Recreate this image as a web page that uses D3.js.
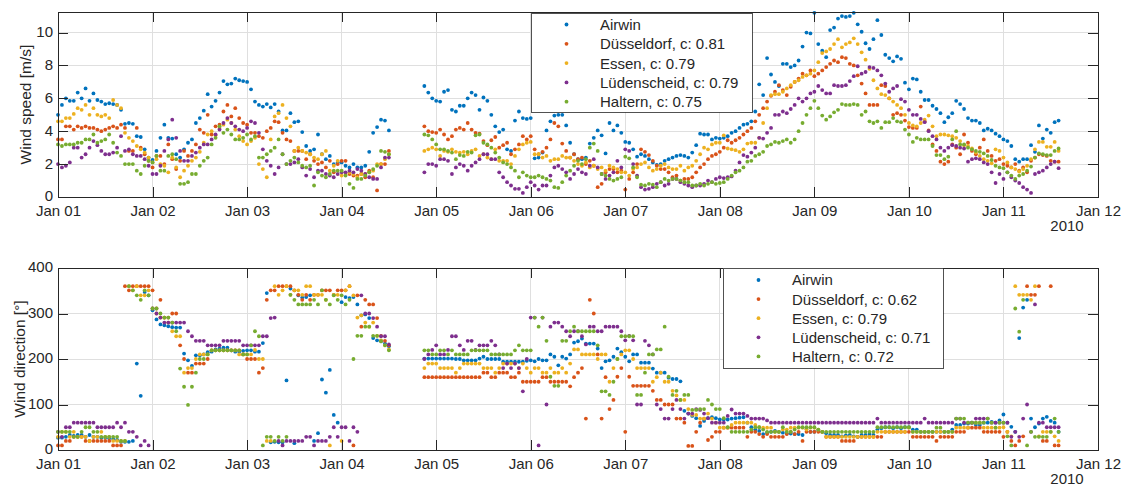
<!DOCTYPE html>
<html><head><meta charset="utf-8">
<script src="https://cdn.jsdelivr.net/npm/d3@7"></script>
<style>
html,body{margin:0;padding:0;background:#fff;}
svg text{font-family:"Liberation Sans", Arial, Helvetica, sans-serif; fill:#262626;}
</style></head><body>
<svg id="chart" width="1126" height="486"></svg>
<script>
// Hourly observations, 1 Jan 2010 00:00 UTC onwards; null = no data
const startTime = Date.UTC(2010, 0, 1);
const endTime = Date.UTC(2010, 0, 12);
const stations = ["Airwin", "Düsseldorf", "Essen", "Lüdenscheid", "Haltern"];
const speedCorr = [null, "0.81", "0.79", "0.79", "0.75"];
const dirCorr = [null, "0.62", "0.79", "0.71", "0.72"];
const colors = ["#0072BD", "#D95319", "#EDB120", "#7E2F8E", "#77AC30"];
const speedTicks = [0, 2, 4, 6, 8, 10];
const dirTicks = [0, 100, 200, 300, 400];
const yearLabel = "2010";
const _ = null;

// Wind speed [m/s]
const speedAirwin = [
5.0,5.6,6.0,5.85,5.85,6.35,6.0,6.6,5.85,6.3,5.9,5.8,5.65,5.7,5.65,5.6,5.3,4.45,4.5,4.45,3.7,3.65,2.9,2.4,
2.25,2.8,3.6,4.4,3.6,3.55,2.6,2.4,2.9,3.3,3.5,4.5,4.8,5.25,6.25,5.5,5.85,6.35,7.05,6.85,6.9,7.2,7.1,7.05,
7.0,6.55,5.8,5.6,5.5,5.65,5.45,5.65,5.2,4.05,4.05,5.1,4.55,4.6,3.95,3.1,2.8,2.9,3.8,2.6,2.3,2.5,2.0,2.1,
2.1,1.9,1.8,2.0,1.8,1.8,1.9,2.75,3.9,4.25,4.7,4.65,4.05,_,_,_,_,_,_,_,_,6.75,6.35,6.0,
5.85,5.8,6.4,6.5,5.3,5.2,5.55,5.55,6.0,6.35,6.2,5.3,6.05,5.85,5.0,4.3,3.95,4.1,2.9,2.8,4.65,5.2,4.8,4.75,
4.8,2.35,2.4,2.7,4.05,4.6,4.95,5.0,5.0,4.35,3.3,2.6,2.3,2.3,2.4,3.25,3.6,4.05,3.75,2.65,4.5,4.05,4.35,3.9,
3.35,3.3,2.9,2.45,2.6,2.5,2.3,2.1,1.95,2.0,2.2,2.3,2.4,2.5,2.55,2.5,2.4,2.7,3.15,3.85,3.8,3.8,3.5,3.6,
3.55,3.6,3.7,3.9,4.0,4.2,4.4,4.45,4.6,5.2,6.85,6.2,8.45,7.45,7.0,6.75,8.1,8.1,7.9,8.0,8.3,9.15,10.0,9.95,
11.2,9.3,8.9,8.5,10.15,10.3,10.85,11.0,10.95,11.0,11.2,10.5,10.05,9.35,9.0,9.6,10.75,9.85,8.65,8.45,8.25,8.55,8.4,6.95,
6.55,7.2,7.15,6.4,5.9,5.9,5.55,5.35,5.1,4.55,4.85,5.1,5.85,5.65,5.35,4.8,4.65,4.65,4.5,4.05,4.15,4.05,3.85,3.7,
3.5,3.4,3.1,2.3,2.15,2.3,2.3,3.15,2.75,4.35,3.55,4.1,3.9,4.55,4.65];
const speedDuesseldorf = [
3.5,3.5,4.3,4.3,4.1,4.3,4.2,4.3,4.2,4.2,4.1,4.0,4.1,4.2,4.3,4.2,4.4,4.2,2.8,2.8,4.2,3.0,2.6,2.2,
1.8,2.5,2.5,2.0,3.2,2.3,1.7,2.2,2.8,2.5,2.8,3.2,4.1,3.9,5.0,3.8,4.3,4.4,5.2,5.6,4.9,5.4,4.8,4.5,
4.4,3.9,3.9,3.7,3.6,4.0,4.2,4.6,4.55,3.9,3.5,3.4,2.8,2.8,2.8,2.3,2.6,2.2,2.0,2.1,1.8,2.2,1.5,2.0,
2.2,2.2,1.4,1.3,1.3,1.4,1.2,1.6,1.2,0.4,2.0,2.0,2.8,_,_,_,_,_,_,_,_,4.3,4.0,3.95,
3.9,4.1,3.8,3.5,3.7,4.1,4.2,4.1,4.5,4.1,3.9,3.85,3.4,3.15,3.45,3.65,3.0,3.15,3.3,2.6,2.9,3.2,3.7,3.5,
3.7,2.9,2.6,2.75,3.0,3.5,4.5,4.3,3.25,2.8,2.4,2.6,2.3,2.4,2.0,2.2,1.9,0.6,0.8,1.5,1.7,1.7,1.5,1.6,
0.45,1.1,1.5,2.0,2.9,2.75,2.55,2.2,1.9,1.7,1.7,1.5,1.2,1.3,1.0,1.1,1.1,1.2,1.5,1.8,2.0,2.3,2.5,2.6,
2.75,3.0,3.45,3.3,3.45,3.6,3.8,4.0,4.2,4.6,5.0,5.4,5.8,6.15,6.4,6.8,6.5,6.2,6.7,7.0,7.2,7.5,7.4,7.7,
7.35,7.5,7.7,7.9,8.1,8.3,8.2,8.5,8.45,8.1,8.0,7.4,6.9,6.3,5.6,5.6,5.6,6.8,6.75,6.0,5.0,5.1,5.0,4.65,
4.25,4.2,4.2,5.5,4.6,4.05,3.2,2.8,2.15,2.0,2.15,3.2,3.0,2.6,3.8,3.3,2.8,2.6,3.0,3.5,2.8,2.5,2.2,2.3,
2.0,1.9,1.8,2.0,1.6,1.8,1.5,2.2,2.4,2.6,2.55,2.5,2.2,2.15,2.15];
const speedEssen = [
4.6,4.6,4.8,4.8,5.05,5.4,5.3,5.6,5.0,5.4,5.0,4.9,5.0,4.8,5.9,5.6,5.4,3.9,3.6,3.4,3.1,2.9,2.7,2.4,
2.1,2.3,2.0,1.9,1.5,2.4,1.8,1.2,1.6,1.9,2.2,2.4,2.75,3.3,3.8,4.0,3.75,4.2,4.4,4.7,4.5,4.1,3.7,3.4,
3.2,3.4,3.6,2.0,1.7,1.2,3.5,4.9,5.1,5.6,4.8,4.3,2.8,3.0,2.8,2.7,2.6,2.4,2.3,2.6,2.8,1.6,1.9,2.2,
1.3,1.4,1.5,1.4,1.2,1.4,1.4,1.5,1.6,2.0,2.0,2.3,2.6,_,_,_,_,_,_,_,_,2.8,2.9,3.0,
2.9,2.5,2.8,2.75,2.9,2.75,2.7,2.75,2.6,2.8,2.9,2.5,2.6,2.4,2.3,2.9,2.2,2.2,2.2,2.0,2.5,2.9,3.2,3.3,
3.35,2.6,2.6,2.4,2.5,2.2,2.3,2.3,2.5,2.4,2.4,2.2,2.0,1.9,2.1,1.8,1.9,1.7,1.8,1.6,1.9,1.8,1.7,1.5,
1.5,1.3,1.7,1.8,2.0,2.1,1.8,1.6,1.7,1.9,2.0,1.8,1.7,1.7,1.9,1.6,1.8,1.9,2.2,2.6,3.0,2.9,3.2,3.3,
3.3,3.75,2.95,2.9,2.85,2.75,2.9,3.25,3.3,3.3,3.6,4.5,5.4,6.2,6.25,6.25,6.4,6.6,6.8,7.0,7.1,7.3,7.4,7.5,
7.7,8.2,8.75,8.85,9.0,9.3,9.6,9.1,9.3,9.4,9.65,9.3,8.8,8.35,7.8,7.1,6.6,6.25,6.2,6.0,5.8,5.6,5.4,5.0,
4.5,4.35,4.3,4.5,4.7,4.95,4.3,3.7,3.8,3.8,3.75,3.7,3.6,3.4,3.15,3.1,2.95,2.7,2.5,2.3,2.2,2.05,2.9,2.8,
2.4,2.1,1.8,1.7,1.55,1.7,1.9,2.3,2.9,3.35,3.35,3.05,3.05,3.35,2.8];
const speedLuedenscheid = [
2.0,1.8,1.9,2.1,3.0,3.0,2.4,2.6,3.0,3.4,3.15,2.8,2.6,2.6,2.7,3.0,3.7,2.8,2.9,2.6,2.5,2.5,2.3,1.9,
1.4,1.4,1.9,2.8,3.5,4.7,3.6,2.8,2.2,2.2,2.5,2.7,3.0,3.2,3.2,3.5,3.8,4.1,4.5,4.8,4.5,4.3,4.1,4.0,
4.2,4.6,4.5,3.9,2.9,2.2,1.9,1.4,1.8,2.6,2.0,2.0,2.1,2.3,1.8,1.3,1.7,1.2,1.6,1.6,1.4,1.3,1.2,1.4,
1.5,1.5,1.6,1.5,1.7,1.6,1.4,1.2,1.1,1.1,1.8,2.4,2.4,_,_,_,_,_,_,_,_,1.5,2.0,2.0,
1.9,2.3,2.3,2.2,1.4,1.8,2.0,1.9,1.6,1.9,2.1,2.3,2.6,2.6,2.3,2.3,1.5,1.2,0.9,0.7,0.5,0.5,0.25,0.6,
0.9,0.7,0.45,0.7,0.7,1.3,1.8,1.9,1.7,1.5,1.1,1.4,1.7,1.5,1.4,1.9,2.3,1.8,1.4,1.1,1.3,1.5,2.2,1.8,
2.9,2.8,2.0,1.3,0.6,0.45,0.5,0.6,0.8,0.9,0.7,0.8,1.1,1.1,0.9,0.8,0.7,0.6,0.7,0.7,0.8,1.0,0.9,1.1,
1.2,1.15,1.2,1.25,1.6,2.1,2.55,2.45,2.7,3.0,3.6,3.55,3.9,4.2,5.0,5.0,5.2,5.1,5.35,5.6,6.0,5.8,6.0,6.3,
6.4,6.75,6.5,6.3,6.3,6.8,6.75,6.75,6.8,7.05,7.35,7.95,7.5,7.6,7.9,7.85,7.7,7.4,6.9,6.4,6.6,6.75,5.95,5.8,
5.3,5.0,5.0,4.75,4.55,4.0,3.7,3.5,3.0,2.8,3.0,3.15,3.1,3.0,2.95,2.15,2.3,2.35,2.3,2.1,2.0,1.5,0.85,1.4,
1.1,1.5,1.2,1.0,0.85,0.6,0.45,0.25,1.4,1.5,1.6,1.8,2.0,2.15,1.75];
const speedHaltern = [
3.2,3.1,3.2,3.2,3.2,3.3,3.3,3.5,3.5,3.8,3.3,3.4,3.5,3.8,3.3,2.7,2.5,2.0,2.0,2.0,1.6,1.4,1.9,2.2,
2.1,2.5,1.6,1.6,2.5,2.6,2.3,0.8,0.8,0.9,1.4,1.4,1.9,2.2,2.4,3.2,3.6,4.3,3.9,4.1,3.8,3.5,3.5,3.6,
3.8,3.5,3.7,2.4,2.4,2.6,2.8,3.0,3.5,2.6,2.0,2.2,2.4,2.1,1.9,1.8,1.9,0.7,1.5,1.3,1.2,1.4,1.6,1.6,
1.6,1.3,0.8,0.55,1.1,1.1,1.3,1.5,1.7,1.9,2.8,2.75,2.6,_,_,_,_,_,_,_,_,3.8,3.75,3.5,
3.2,2.9,2.9,2.8,2.7,2.3,2.55,2.5,2.75,2.7,3.75,3.8,3.3,3.2,3.0,2.7,2.4,2.1,2.0,1.8,1.6,1.2,1.5,1.3,
1.2,1.2,1.3,1.2,1.1,1.0,0.6,0.55,0.9,1.3,1.6,1.9,2.2,2.0,2.3,3.0,3.25,2.8,1.4,1.3,1.1,1.0,1.1,1.2,
2.45,2.35,1.8,1.2,0.75,0.7,0.8,0.75,0.6,0.9,1.1,1.0,1.1,1.1,1.0,0.9,0.9,0.7,0.7,0.8,0.7,0.8,0.9,0.8,
0.85,0.9,1.1,1.3,1.5,1.6,1.8,2.15,2.2,2.5,2.6,2.75,3.1,3.2,3.35,3.3,3.4,3.5,3.3,3.5,4.0,4.5,5.0,5.4,
5.85,5.4,4.95,4.7,4.9,5.15,5.3,5.65,5.6,5.6,5.65,5.6,5.0,5.2,4.6,4.5,4.6,4.2,4.55,4.55,4.8,4.6,4.55,4.1,
3.8,3.35,3.6,3.5,3.5,3.5,3.1,2.55,2.55,2.3,2.45,3.5,4.0,3.2,3.2,3.0,2.9,2.8,2.75,2.65,2.5,2.25,1.9,1.8,
1.75,1.5,1.3,1.1,1.3,1.4,1.6,1.85,2.4,2.65,2.6,2.55,2.55,2.8,2.95];

// Wind direction [deg]
const dirAirwin = [
27,27,29,33,31,33,33,29,33,29,29,27,27,26,24,22,18,18,18,20,190,119,347,340,
307,287,276,274,272,270,269,269,212,197,185,208,208,210,215,216,221,223,225,225,219,216,216,218,
219,219,216,216,235,345,17,18,17,17,153,355,15,340,335,336,340,20,37,155,126,176,77,60,
325,336,334,336,320,296,298,290,246,241,239,234,228,_,_,_,_,_,_,_,_,201,201,201,
201,201,201,201,201,200,200,197,197,197,197,201,205,200,200,200,200,194,194,194,194,194,194,196,
197,195,200,197,197,210,205,186,205,201,210,236,239,245,234,234,234,223,180,195,197,205,223,215,
205,195,210,210,192,192,192,179,170,170,170,159,156,156,151,86,80,75,70,53,64,70,72,70,
67,67,67,69,70,71,72,60,50,45,42,35,38,40,42,40,38,36,36,35,35,33,46,40,
40,44,40,37,33,33,33,30,32,33,30,29,33,33,35,33,45,48,50,50,48,50,48,50,
50,45,45,40,40,40,40,40,40,40,40,45,55,55,58,58,60,55,55,60,60,62,60,65,
78,60,51,40,246,313,330,69,50,58,69,73,64,60,40];
const dirDuesseldorf = [
10,10,20,20,29,29,29,20,20,20,20,20,20,20,10,10,10,360,351,360,360,360,360,360,
351,311,330,291,291,300,300,230,200,170,170,190,190,190,200,219,219,219,219,219,219,219,219,210,
200,200,200,170,180,330,351,351,360,360,360,360,351,341,330,341,330,341,341,351,351,351,341,351,
351,351,360,10,340,271,330,320,320,290,251,240,230,_,_,_,_,_,_,_,_,160,160,160,
160,160,160,160,160,160,160,160,160,160,160,160,170,170,160,160,170,170,170,160,160,170,150,150,
150,150,150,160,160,150,150,150,150,150,140,160,170,180,69,330,300,210,69,160,90,110,161,180,
40,161,141,141,141,141,141,130,110,110,100,100,100,69,69,60,9,9,40,60,69,22,29,40,
40,49,49,49,49,49,49,29,40,40,35,29,35,29,29,29,29,35,40,35,40,20,40,40,
40,40,40,29,29,29,29,20,20,20,20,29,29,29,29,29,29,29,40,40,40,40,40,40,
40,29,29,29,29,29,29,20,29,29,29,29,40,40,40,49,49,49,49,40,40,40,40,40,
29,40,20,10,20,30,360,341,341,360,20,20,360,10,10];
const dirEssen = [
29,40,40,29,40,29,29,29,20,29,29,40,29,29,20,20,20,20,360,351,360,340,340,351,
311,300,291,291,280,261,250,250,170,180,180,200,210,210,210,219,219,219,219,219,219,219,210,210,
210,210,220,200,200,20,20,360,341,351,360,341,351,351,341,360,360,341,341,341,330,10,341,341,
20,351,360,340,291,296,280,271,280,251,241,230,221,_,_,_,_,_,_,_,_,180,190,190,
190,180,180,180,180,170,180,190,190,190,190,190,180,180,180,170,180,190,190,190,190,180,190,180,
170,180,180,170,170,180,170,170,180,170,190,221,221,210,210,210,210,200,210,210,150,180,200,210,
219,219,200,180,180,180,180,150,160,170,150,150,130,120,110,110,90,77,77,69,69,80,69,60,
49,49,49,55,60,60,60,60,60,55,50,49,49,49,40,40,45,45,49,49,49,49,45,49,
49,45,40,29,29,29,29,29,29,29,29,29,29,29,29,29,40,40,40,40,40,40,40,40,
49,40,40,40,40,40,40,40,40,40,40,40,49,49,49,49,60,60,60,49,49,49,49,49,
50,40,30,360,341,341,341,330,360,30,40,40,40,30,20];
const dirLuedenscheid = [
40,29,50,50,60,60,60,60,60,60,50,50,50,50,50,60,50,60,40,40,29,10,20,10,
311,300,291,280,280,280,280,280,280,261,250,240,240,240,230,230,230,230,240,240,240,240,240,230,
230,230,230,230,250,250,290,291,20,10,20,20,20,20,20,29,29,10,20,20,20,29,50,29,
50,50,20,50,40,340,300,300,290,271,250,250,232,_,_,_,_,_,_,_,_,200,210,220,
230,210,210,220,250,250,230,220,240,240,220,230,230,230,240,230,210,180,190,180,190,180,129,200,
291,291,10,291,100,271,280,280,271,261,250,261,261,250,232,271,271,261,261,271,271,271,271,261,
241,251,241,100,100,240,230,210,100,90,69,69,90,110,90,69,80,80,90,88,80,70,60,60,
60,60,75,89,80,80,80,75,69,69,69,69,65,60,60,60,60,60,60,60,60,60,60,60,
60,60,60,60,60,60,60,60,60,60,60,60,60,60,60,60,69,60,60,60,60,60,60,60,
60,60,60,60,69,60,60,60,60,60,60,60,69,69,60,60,60,69,69,69,69,60,60,60,
60,60,29,40,29,69,100,40,320,60,60,50,50,50,50];
const dirHaltern = [
40,40,40,40,29,29,40,50,50,40,40,29,29,29,29,29,20,20,360,351,340,330,351,340,
311,311,300,291,291,280,261,179,139,99,139,170,200,200,210,219,219,219,219,219,219,219,219,210,
210,230,261,250,10,29,29,20,29,20,29,341,330,320,320,320,320,330,320,351,330,320,340,330,
340,320,330,200,251,251,271,271,251,251,239,230,219,_,_,_,_,_,_,_,_,219,219,210,
210,219,219,210,219,210,210,210,210,219,219,219,219,219,210,210,210,210,210,210,219,230,219,219,
219,291,271,291,240,161,141,141,240,240,261,271,261,261,261,261,261,230,129,129,121,150,200,250,
250,250,250,121,121,170,210,210,221,221,271,161,121,130,110,121,121,88,88,90,90,110,100,90,
90,70,50,40,40,40,40,40,45,50,50,45,40,40,40,40,50,40,40,45,50,50,50,50,
50,45,40,40,40,40,40,40,40,40,40,40,40,40,40,40,50,50,50,50,50,50,50,50,
50,40,40,40,40,40,40,49,49,40,40,40,69,69,69,60,60,60,60,60,69,60,49,60,
60,30,10,311,260,330,10,40,29,29,29,29,40,69,40];

const speedSeries = [speedAirwin, speedDuesseldorf, speedEssen, speedLuedenscheid, speedHaltern];
const dirSeries = [dirAirwin, dirDuesseldorf, dirEssen, dirLuedenscheid, dirHaltern];

const svg = d3.select("#chart");
const HOUR = 3600 * 1000;
const x = d3.scaleUtc().domain([startTime, endTime]).range([58, 1098]);
const dayTicks = d3.utcDay.range(new Date(startTime), new Date(endTime + 1));
const fmt = d3.utcFormat("%b %d");
const axisColor = "#262626";
const gridColor = "#dfdfdf";
const dotR = 1.9;

function panel(cfg) {
  const y = d3.scaleLinear().domain([0, cfg.yMax]).range([cfg.bottom, cfg.top]);
  const g = svg.append("g");
  const L = x.range()[0], R = x.range()[1];

  // grid
  const grid = g.append("g").attr("shape-rendering", "crispEdges");
  grid.selectAll(".gx").data(dayTicks).join("line")
    .attr("x1", d => x(d)).attr("x2", d => x(d))
    .attr("y1", cfg.top).attr("y2", cfg.bottom)
    .attr("stroke", gridColor).attr("stroke-width", 1);
  grid.selectAll(".gy").data(cfg.ticks).join("line")
    .attr("x1", L).attr("x2", R)
    .attr("y1", d => y(d)).attr("y2", d => y(d))
    .attr("stroke", gridColor).attr("stroke-width", 1);

  // points, drawn in legend order
  cfg.series.forEach((vals, si) => {
    const pts = vals.map((v, i) => ({ t: startTime + i * HOUR, v })).filter(d => d.v !== null);
    g.append("g").selectAll("circle").data(pts).join("circle")
      .attr("cx", d => x(d.t)).attr("cy", d => y(Math.min(d.v, cfg.yMax)))
      .attr("r", dotR).attr("fill", colors[si]);
  });

  // axes with inward ticks on all four sides
  const styleAxis = sel => {
    sel.selectAll("path.domain").attr("stroke", axisColor).attr("stroke-width", 1);
    sel.selectAll(".tick line").attr("stroke", axisColor).attr("stroke-width", 1);
    sel.selectAll(".tick text").attr("fill", axisColor).style("font-size", "15px")
      .style("font-family", '"Liberation Sans", Arial, sans-serif');
    sel.attr("shape-rendering", "crispEdges");
  };
  g.append("g").attr("transform", `translate(0,${cfg.bottom})`)
    .call(d3.axisBottom(x).tickValues(dayTicks).tickFormat(fmt).tickSizeInner(-10).tickSizeOuter(0).tickPadding(8))
    .call(styleAxis);
  g.append("g").attr("transform", `translate(0,${cfg.top})`)
    .call(d3.axisTop(x).tickValues(dayTicks).tickFormat("").tickSizeInner(-10).tickSizeOuter(0))
    .call(styleAxis);
  g.append("g").attr("transform", `translate(${L},0)`)
    .call(d3.axisLeft(y).tickValues(cfg.ticks).tickSizeInner(-10).tickSizeOuter(0).tickPadding(5))
    .call(styleAxis)
    .call(a => a.selectAll(".tick text").attr("dy", "0.26em"));
  g.append("g").attr("transform", `translate(${R},0)`)
    .call(d3.axisRight(y).tickValues(cfg.ticks).tickFormat("").tickSizeInner(-10).tickSizeOuter(0))
    .call(styleAxis);

  // year label under the last ticks
  g.append("text").attr("x", 1067).attr("y", cfg.bottom + 34)
    .attr("text-anchor", "middle").style("font-size", "15px").text(yearLabel);

  // y axis title
  g.append("text")
    .attr("transform", `translate(${cfg.titleX},${(cfg.top + cfg.bottom) / 2}) rotate(-90)`)
    .attr("text-anchor", "middle").style("font-size", "15.5px").text(cfg.title);

  // legend
  const lg = g.append("g");
  lg.append("rect").attr("x", cfg.legend.x).attr("y", cfg.legend.y)
    .attr("width", cfg.legend.w).attr("height", cfg.legend.h)
    .attr("fill", "#fff").attr("stroke", axisColor).attr("stroke-width", 0.8)
    .attr("shape-rendering", "crispEdges");
  stations.forEach((name, i) => {
    const cy = cfg.legend.y + cfg.legend.first + i * cfg.legend.step;
    lg.append("circle").attr("cx", cfg.legend.x + 35.5).attr("cy", cy).attr("r", dotR).attr("fill", colors[i]);
    lg.append("text").attr("x", cfg.legend.x + 69).attr("y", cy).attr("dy", "0.36em")
      .style("font-size", "15px")
      .text(cfg.corr[i] === null ? name : `${name}, c: ${cfg.corr[i]}`);
  });
}

panel({
  top: 12, bottom: 197, yMax: 11.25, ticks: speedTicks, series: speedSeries,
  title: "Wind speed [m/s]", titleX: 31, corr: speedCorr,
  legend: { x: 531, y: 13, w: 221, h: 99, first: 11.5, step: 19.3 }
});
panel({
  top: 268, bottom: 450, yMax: 400, ticks: dirTicks, series: dirSeries,
  title: "Wind direction [°]", titleX: 25, corr: dirCorr,
  legend: { x: 723, y: 268, w: 220, h: 100, first: 12, step: 19.1 }
});
</script>
</body></html>
